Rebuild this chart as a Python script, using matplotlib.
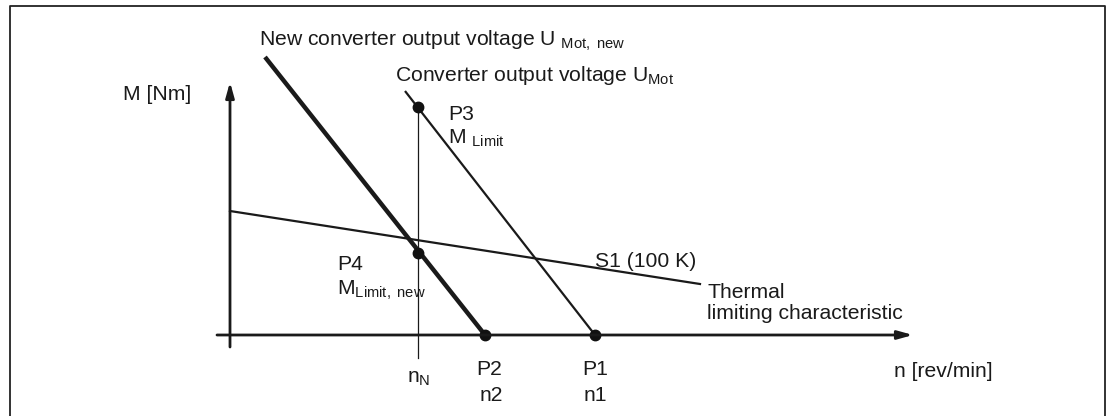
import matplotlib
matplotlib.use("Agg")
import matplotlib.pyplot as plt
from matplotlib.lines import Line2D

plt.rcParams['font.family'] = ['Liberation Sans', 'DejaVu Sans']
plt.rcParams['mathtext.fontset'] = 'custom'
plt.rcParams['mathtext.rm'] = 'Liberation Sans'
plt.rcParams['mathtext.it'] = 'Liberation Sans'

# schematic values (n = speed, M = torque), arbitrary units
n_N = 188
n2 = 255
n1 = 365
M_limit = 228
M_limit_new = 82

# thermal limiting characteristic S1 (100 K)
thermal_n = [0, 470]
thermal_M = [124, 51]

# converter voltage characteristics (start of line -> crossing of n axis)
umot_new_n = [35, n2]
umot_new_M = [278, 0]
umot_n = [175, n1]
umot_M = [244, 0]

W, H = 1111, 416
fig = plt.figure(figsize=(W / 100, H / 100), dpi=100)
ax = fig.add_axes([0, 0, 1, 1])
# origin of the diagram sits at pixel (230, 335)
ox, oy = 230, 335
ax.set_xlim(-ox, W - ox)
ax.set_ylim(oy - H, oy)
ax.axis('off')

fs = 15.2

# frame (open at bottom)
ax.add_line(Line2D([10 - ox, 10 - ox, 1105 - ox, 1105 - ox],
                   [oy - H, oy - 6, oy - 6, oy - H], color='#222222', lw=1.3))

# axes with arrows
ax.annotate('', xy=(0, oy - 82), xytext=(0, -12),
            arrowprops=dict(arrowstyle='-|>,head_length=0.9,head_width=0.25',
                            color='#1a1a1a', lw=2.0, shrinkA=0, shrinkB=0))
ax.annotate('', xy=(913 - ox, 0), xytext=(-13, 0),
            arrowprops=dict(arrowstyle='-|>,head_length=0.9,head_width=0.25',
                            color='#1a1a1a', lw=2.0, shrinkA=0, shrinkB=0))

# characteristics
ax.plot(thermal_n, thermal_M, color='#1a1a1a', lw=1.6)
ax.plot(umot_new_n, umot_new_M, color='#1a1a1a', lw=3.2, solid_capstyle='butt')
ax.plot(umot_n, umot_M, color='#1a1a1a', lw=1.6, solid_capstyle='butt')

# vertical at rated speed n_N
ax.plot([n_N, n_N], [-23, M_limit], color='#1a1a1a', lw=0.9)

# points
ax.plot([n_N, n_N, n2, n1], [M_limit, M_limit_new, 0, 0], 'o',
        color='#111111', ms=7.5)

tc = '#1a1a1a'
ax.text(123 - ox, oy - 100, 'M [Nm]', fontsize=fs, color=tc)
ax.text(894 - ox, oy - 377, 'n [rev/min]', fontsize=fs, color=tc)
ax.text(259 - ox, oy - 46,
        r'New converter output voltage U $_{\mathrm{Mot,\ new}}$',
        fontsize=fs, color=tc)
ax.text(395 - ox, oy - 81,
        r'Converter output voltage U$_{\mathrm{Mot}}$', fontsize=fs, color=tc)
ax.text(448 - ox, oy - 120, 'P3', fontsize=fs, color=tc)
ax.text(448 - ox, oy - 144, r'M $_{\mathrm{Limit}}$', fontsize=fs, color=tc)
ax.text(337 - ox, oy - 270, 'P4', fontsize=fs, color=tc)
ax.text(337 - ox, oy - 295, r'M$_{\mathrm{Limit,\ new}}$', fontsize=fs, color=tc)
ax.text(595 - ox, oy - 267, 'S1 (100 K)', fontsize=fs, color=tc)
ax.text(707 - ox, oy - 298, 'Thermal', fontsize=fs, color=tc)
ax.text(707 - ox, oy - 319, 'limiting characteristic', fontsize=fs, color=tc)
ax.text(n_N + 1, oy - 383, r'n$_{\mathrm{N}}$', fontsize=fs, color=tc, ha='center')
ax.text(n2 + 4, oy - 375, 'P2', fontsize=fs, color=tc, ha='center')
ax.text(n2 + 6, oy - 401, 'n2', fontsize=fs, color=tc, ha='center')
ax.text(n1, oy - 375, 'P1', fontsize=fs, color=tc, ha='center')
ax.text(n1, oy - 401, 'n1', fontsize=fs, color=tc, ha='center')

fig.savefig('out.png', dpi=100, facecolor='white')
